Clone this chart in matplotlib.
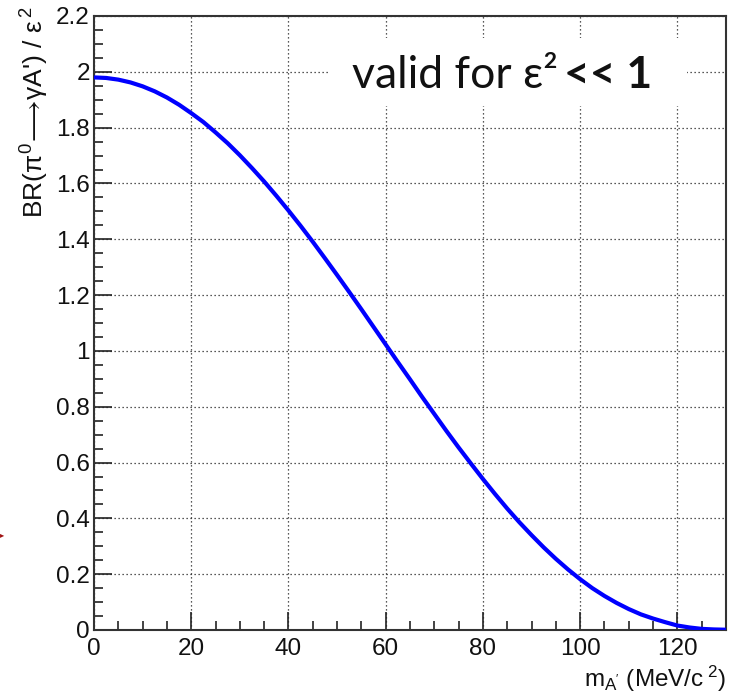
import matplotlib
matplotlib.use("Agg")
import matplotlib.pyplot as plt
from matplotlib.patches import Rectangle
from matplotlib.ticker import MultipleLocator

# data
mass = [0, 2.5, 5, 7.5, 10, 12.5, 15, 17.5, 20, 22.5, 25, 27.5, 30, 32.5,
        35, 37.5, 40, 42.5, 45, 47.5, 50, 52.5, 55, 57.5, 60, 62.5, 65,
        67.5, 70, 72.5, 75, 77.5, 80, 82.5, 85, 87.5, 90, 92.5, 95, 97.5,
        100, 102.5, 105, 107.5, 110, 112.5, 115, 117.5, 120, 122.5, 125,
        127.5, 130]
br = [1.980, 1.978, 1.972, 1.962, 1.948, 1.930, 1.908, 1.882, 1.852,
      1.820, 1.783, 1.744, 1.701, 1.655, 1.607, 1.556, 1.503, 1.448,
      1.391, 1.332, 1.272, 1.211, 1.149, 1.086, 1.023, 0.960, 0.898,
      0.835, 0.774, 0.713, 0.654, 0.597, 0.541, 0.487, 0.435, 0.386,
      0.340, 0.296, 0.255, 0.217, 0.182, 0.150, 0.122, 0.097, 0.075,
      0.056, 0.041, 0.028, 0.016, 0.009, 0.004, 0.002, 0.001]

x_range = (0, 130)
y_range = (0, 2.2)
xlabel = r"m$_{\mathrm{A'}}$ (MeV/c$^{\ 2}$)"
ylabel = r"BR($\pi^{0}\!\longrightarrow\!\gamma$A') / $\varepsilon^{\,2}$"
note_main = "valid for ε²"
note_bold = "<< 1"

plt.rcParams['font.family'] = ['Liberation Sans', 'DejaVu Sans']
plt.rcParams['mathtext.fontset'] = 'custom'
plt.rcParams['mathtext.rm'] = 'Liberation Sans'
plt.rcParams['mathtext.it'] = 'Liberation Sans'
plt.rcParams['mathtext.sf'] = 'Liberation Sans'

W, H = 731, 696
fig = plt.figure(figsize=(W / 100, H / 100), dpi=100)
ax = fig.add_axes([94 / W, 1 - 630 / H, (726 - 94) / W, (630 - 16) / H])

ax.plot(mass, br, color='#0000ff', lw=3, solid_capstyle='butt',
        solid_joinstyle='round', zorder=4)

ax.set_xlim(*x_range)
ax.set_ylim(*y_range)
ax.xaxis.set_major_locator(MultipleLocator(20))
ax.xaxis.set_minor_locator(MultipleLocator(5))
ax.yaxis.set_major_locator(MultipleLocator(0.2))
ax.yaxis.set_minor_locator(MultipleLocator(0.05))
ax.yaxis.set_major_formatter(plt.FuncFormatter(lambda v, p: f"{v:g}"))
ax.xaxis.set_major_formatter(plt.FuncFormatter(lambda v, p: f"{v:g}"))

ax.tick_params(which='both', direction='in', top=False, right=False,
               colors='#222222', width=1.2, labelcolor='#111111')
ax.tick_params(which='major', length=13, labelsize=17.5)
ax.tick_params(which='minor', length=6.5)
ax.tick_params(axis='x', which='major', pad=5.5)
ax.tick_params(axis='y', which='major', pad=3)

for s in ax.spines.values():
    s.set_linewidth(1.5)
    s.set_color('#333333')

ax.grid(True, which='major', color='#222222', linestyle=(0, (1, 2.2)), lw=0.9)
ax.set_axisbelow(True)

# white box behind the note
ax.add_patch(Rectangle((48.5, 1.877), 73.5, 0.244, facecolor='white',
                       edgecolor='none', zorder=2.5))

fig.text(352 / W, 1 - 88 / H, note_main, fontsize=32, family=['Lato', 'DejaVu Sans'],
         ha='left', va='baseline', color='#111111', zorder=5)
fig.text(652 / W, 1 - 88 / H, note_bold, fontsize=32, family=['Lato', 'DejaVu Sans'],
         fontweight='bold', ha='right', va='baseline', color='#111111', zorder=5)

fig.text(726 / W, 1 - 687 / H, xlabel, fontsize=17.5, ha='right', va='baseline',
         color='#111111')
fig.text(51 / W, 1 - 6 / H, ylabel, fontsize=19, rotation=90, ha='right',
         va='top', color='#111111')

# small red arrow tip at the left edge
fig.text(0.0, 1 - 535 / H, "▸", color='#a01010', fontsize=6, ha='left',
         va='center', family=['DejaVu Sans'])

fig.savefig("out.png", dpi=100)
